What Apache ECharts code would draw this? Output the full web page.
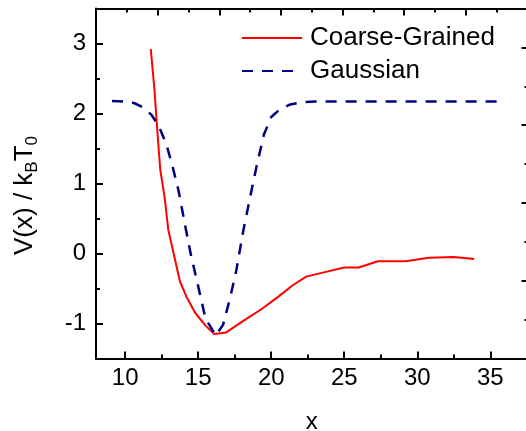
<!DOCTYPE html>
<html>
<head>
<meta charset="utf-8">
<script src="https://cdn.jsdelivr.net/npm/echarts@6/dist/echarts.min.js"></script>
<style>
  html, body { margin: 0; padding: 0; background: #fff; }
  #chart { width: 526px; height: 431px; }
</style>
</head>
<body>
<div id="chart"></div>
<script>
// Coarse-grained potential, sampled along x
const cgX = [11.75, 12.0, 12.2, 12.4, 12.7, 12.95, 13.75, 14.2, 14.8, 15.5, 16.1, 16.9, 17.6, 18.4, 19.3, 20.4, 21.5, 22.4, 23.6, 25.0, 26.0, 27.3, 29.2, 30.8, 32.5, 33.9];
const cgV = [2.92, 2.35, 1.75, 1.2, 0.8, 0.34, -0.4, -0.62, -0.85, -1.03, -1.15, -1.13, -1.03, -0.92, -0.8, -0.63, -0.45, -0.33, -0.27, -0.2, -0.2, -0.11, -0.11, -0.06, -0.05, -0.08];

// Gaussian model potential
const gaX = [9.1, 10.0, 10.6, 11.2, 11.8, 12.3, 12.8, 13.2, 13.65, 14.15, 14.5, 15.0, 15.5, 16.2, 16.7, 17.2, 17.6, 18.1, 18.6, 19.0, 19.5, 20.0, 20.6, 21.3, 22.1, 23.0, 35.8];
const gaV = [2.18, 2.17, 2.15, 2.09, 1.98, 1.82, 1.57, 1.28, 0.9, 0.35, -0.02, -0.47, -0.93, -1.17, -1.02, -0.62, -0.25, 0.34, 0.85, 1.25, 1.7, 1.95, 2.06, 2.13, 2.16, 2.17, 2.17];

// Axis ticks
const xMajor = [10, 15, 20, 25, 30, 35];
const xMinor = [12.5, 17.5, 22.5, 27.5, 32.5];
const yMajor = [-1, 0, 1, 2, 3];
const yMinor = [-0.5, 0.5, 1.5, 2.5];

const FONT = '"Liberation Sans", Arial, sans-serif';
const pairs = (xs, ys) => xs.map((x, i) => [x, ys[i]]);

const chart = echarts.init(document.getElementById('chart'), null, { renderer: 'canvas' });

const black = '#000';
const tickLine = { color: black, width: 2 };

chart.setOption({
  backgroundColor: '#fff',
  animation: false,
  grid: { left: 96, top: 8.5, width: 431.5, height: 350, containLabel: false, outerBoundsMode: 'none' },
  legend: {
    orient: 'vertical',
    left: 241,
    top: 25,
    padding: 0,
    itemWidth: 60,
    itemHeight: 14,
    itemGap: 7,
    itemStyle: { opacity: 0 },
    textStyle: { fontSize: 26, fontFamily: FONT, color: black, padding: [0, 0, 0, 3] },
    data: ['Coarse-Grained', 'Gaussian']
  },
  xAxis: [
    {
      type: 'value', position: 'bottom', min: 8, max: 37.55,
      axisLine: { show: true, onZero: false, lineStyle: { color: black, width: 2 } },
      axisTick: { show: true, inside: true, length: 7, customValues: xMajor, lineStyle: tickLine },
      axisLabel: { show: true, customValues: xMajor, fontSize: 24, fontFamily: FONT, color: black, margin: 8 },
      splitLine: { show: false },
      name: 'x', nameLocation: 'middle', nameGap: 52,
      nameTextStyle: { fontSize: 24, fontFamily: FONT, color: black }
    },
    {
      type: 'value', position: 'bottom', min: 8, max: 37.55,
      axisLine: { show: false, onZero: false },
      axisTick: { show: true, inside: true, length: 4, customValues: xMinor, lineStyle: tickLine },
      axisLabel: { show: false },
      splitLine: { show: false }
    },
    {
      type: 'value', position: 'top', min: 0, max: 7, interval: 1,
      axisLine: { show: true, onZero: false, lineStyle: { color: black, width: 2 } },
      axisTick: { show: true, inside: true, length: 7, lineStyle: tickLine },
      minorTick: { show: true, splitNumber: 2, length: 4, lineStyle: tickLine },
      axisLabel: { show: false },
      splitLine: { show: false }
    }
  ],
  yAxis: [
    {
      type: 'value', position: 'left', min: -1.5, max: 3.5,
      axisLine: { show: true, onZero: false, lineStyle: { color: black, width: 2 } },
      axisTick: { show: true, inside: true, length: 7, customValues: yMajor, lineStyle: tickLine },
      axisLabel: { show: true, customValues: yMajor, fontSize: 24, fontFamily: FONT, color: black, margin: 10 },
      splitLine: { show: false },
      name: '{n|V(x) / k}{s|B}{n|T}{s|0}{g|}',
      nameLocation: 'middle', nameRotate: 90, nameGap: 55,
      nameTextStyle: {
        fontFamily: FONT, color: black,
        rich: {
          n: { fontSize: 26, fontFamily: FONT, color: black, lineHeight: 32, verticalAlign: 'middle' },
          s: { fontSize: 17, fontFamily: FONT, color: black, lineHeight: 17, verticalAlign: 'bottom' },
          g: { width: 24, lineHeight: 32 }
        }
      }
    },
    {
      type: 'value', position: 'left', min: -1.5, max: 3.5,
      axisLine: { show: false, onZero: false },
      axisTick: { show: true, inside: true, length: 4, customValues: yMinor, lineStyle: tickLine },
      axisLabel: { show: false },
      splitLine: { show: false }
    },
    {
      type: 'value', position: 'right', min: 0, max: 4.5, interval: 1,
      axisLine: { show: true, onZero: false, lineStyle: { color: black, width: 2 } },
      axisTick: { show: true, inside: true, length: 6, lineStyle: tickLine },
      minorTick: { show: true, splitNumber: 2, length: 3, lineStyle: tickLine },
      axisLabel: { show: false },
      splitLine: { show: false }
    }
  ],
  series: [
    {
      name: 'Coarse-Grained', type: 'line', xAxisIndex: 0, yAxisIndex: 0,
      data: pairs(cgX, cgV), symbol: 'none', showSymbol: false,
      lineStyle: { color: '#ff0000', width: 2 },
      itemStyle: { color: '#ff0000' }
    },
    {
      name: 'Gaussian', type: 'line', xAxisIndex: 0, yAxisIndex: 0,
      data: pairs(gaX, gaV), symbol: 'none', showSymbol: false,
      lineStyle: { color: '#000080', width: 2.5, type: [11, 9] },
      itemStyle: { color: '#000080' }
    }
  ]
});
</script>
</body>
</html>
